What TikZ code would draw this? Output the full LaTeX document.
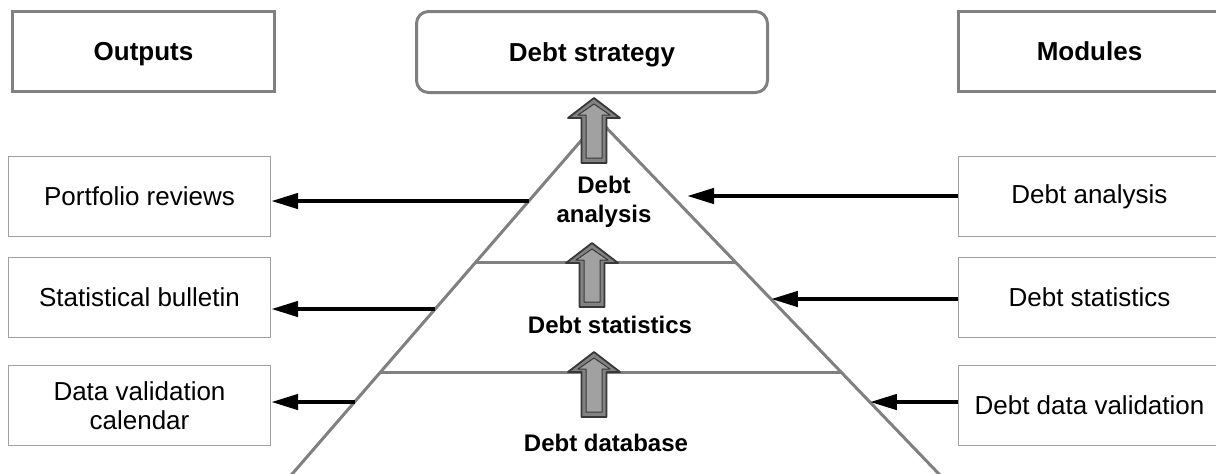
\documentclass[tikz,border=0pt]{standalone}
\usepackage{fontspec}
\setmainfont{Liberation Sans}
\usetikzlibrary{calc, arrows.meta}

\definecolor{framegray}{HTML}{808080}
\definecolor{boxgray}{HTML}{A0A0A0}
\definecolor{liftfill}{HTML}{828282}
\definecolor{liftline}{HTML}{383838}

\begin{document}
\begin{tikzpicture}[
    x=0.5pt, y=-0.5pt, % one unit = one pixel of the layout, y pointing down
    >={Triangle[length=13.5pt, width=7.5pt]}, % solid triangle tips
    header/.style={draw=framegray, line width=1.5pt, minimum width=131pt, minimum height=40pt, inner sep=0pt, text height=9.3pt, text depth=0pt, font=\fontsize{13}{15.5}\selectfont\bfseries}, % top row boxes
    item/.style={draw=boxgray, line width=0.6pt, minimum width=131pt, minimum height=40pt, align=center, inner sep=0pt, font=\fontsize{13}{14.5}\selectfont}, % outputs and modules
    layer/.style={align=center, font=\fontsize{12}{14.5}\selectfont\bfseries}, % pyramid labels
    flow/.style={->, line width=2.2pt, black}, % black connectors
    side/.style={framegray, line width=1.5pt}, % pyramid lines
    lift/.style={fill=liftfill, draw=liftline, line width=0.9pt, line join=round} % block arrows
  ]
  \useasboundingbox (0,0) rectangle (1216,473);
  \clip (0,0) rectangle (1216,473);

  % --- Top row ---
  \node[header] (outputs) at (143.5,51.5) {Outputs};
  \node[header, rounded corners=6pt, minimum width=175.5pt, minimum height=40.5pt] (strategy) at (592,52) {Debt strategy};
  \node[header] (modules) at (1089.5,51.5) {Modules};

  % --- Outputs (left) ---
  \node[item] (port) at (139.5,196.5) {Portfolio reviews};
  \node[item] (bull) at (139.5,297.5) {Statistical bulletin};
  \node[item] (cal) at (139.5,405.5) {Data validation\\calendar};

  % --- Modules (right) ---
  \node[item] (danal) at (1089.5,196.5) {Debt analysis};
  \node[item] (dstat) at (1089.5,297.5) {Debt statistics};
  \node[item] (dval) at (1089.5,405.5) {Debt data validation};

  % --- Pyramid ---
  \coordinate (apex) at (599,120);
  \coordinate (botL) at (293,473);
  \coordinate (botR) at (938,473);
  \draw[side] ($(apex)!1.05!(botL)$) -- (apex) -- ($(apex)!1.05!(botR)$);
  \draw[side] ($(apex)!0.4023!(botL)$) -- ($(apex)!0.4023!(botR)$); % analysis / statistics
  \draw[side] ($(apex)!0.7139!(botL)$) -- ($(apex)!0.7139!(botR)$); % statistics / database

  % --- Layer labels ---
  \node[layer] (lanal) at (604,202) {Debt\\analysis};
  \node[layer] (lstat) at (610,325) {Debt statistics};
  \node[layer] (lbase) at (606,443) {Debt database};

  % --- Block arrows between layers ---
  \foreach \cx/\tip/\bot in {594/98/163, 592/243/307, 594/352/417} {
      \draw[lift] (\cx,\tip) -- ({\cx+26},{\tip+20}) -- ({\cx+12.5},{\tip+20}) -- ({\cx+12.5},\bot)
          -- ({\cx-12.5},\bot) -- ({\cx-12.5},{\tip+20}) -- ({\cx-26},{\tip+20}) -- cycle;
      \draw[lift, fill=liftfill!75!white, line width=0.5pt] (\cx,{\tip+6}) -- ({\cx+16},{\tip+17}) -- ({\cx+8},{\tip+17})
          -- ({\cx+8},{\bot-5}) -- ({\cx-8},{\bot-5}) -- ({\cx-8},{\tip+17}) -- ({\cx-16},{\tip+17}) -- cycle;
  }

  % --- Connectors ---
  \coordinate (outA) at ($(apex)!0.2295!(botL)$);
  \coordinate (outB) at ($(apex)!0.5354!(botL)$);
  \coordinate (outC) at ($(apex)!0.7989!(botL)$);
  \coordinate (inA) at (687,196);
  \coordinate (inB) at ($(apex)!0.5071!(botR)$);
  \coordinate (inC) at ($(apex)!0.7989!(botR)$);
  \draw[flow] (outA) -- (outA -| port.east);
  \draw[flow] (outB) -- (outB -| bull.east);
  \draw[flow] (outC) -- (outC -| cal.east);
  \draw[flow] (inA -| danal.west) -- (inA);
  \draw[flow] (inB -| dstat.west) -- (inB);
  \draw[flow] (inC -| dval.west) -- (inC);

\end{tikzpicture}
\end{document}
